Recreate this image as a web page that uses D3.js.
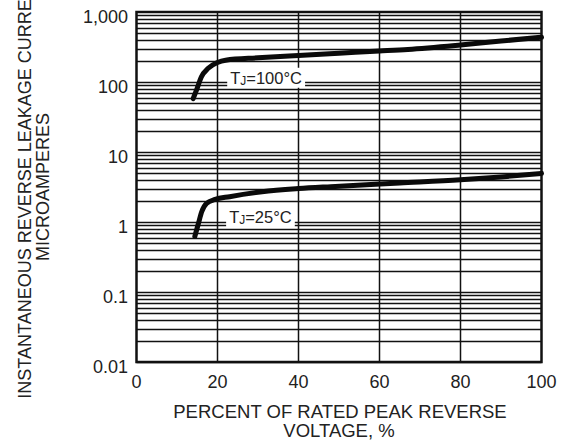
<!DOCTYPE html>
<html>
<head>
<meta charset="utf-8">
<script src="https://cdn.jsdelivr.net/npm/d3@7"></script>
<style>
  body { margin: 0; background: #fff; }
  text { font-family: "Liberation Sans", Arial, sans-serif; fill: #222; }
</style>
</head>
<body>
<svg id="chart"></svg>
<script>
const xTicks = [0, 20, 40, 60, 80, 100];
const yTicks = [0.01, 0.1, 1, 10, 100, 1000];
const yTickLabels = ["0.01", "0.1", "1", "10", "100", "1,000"];

// percent of rated voltage vs leakage current (uA)
const curve100 = [[14, 58], [15, 82], [16, 118], [17.7, 157], [20, 190], [22, 205], [30, 222],
    [40, 240], [50, 258], [60, 277], [67, 292], [80, 338], [90, 385], [100, 435]];
const curve25 = [[14.4, 0.62], [15.3, 0.96], [16.1, 1.4], [17.3, 1.85], [19.4, 2.1], [23, 2.3],
    [31, 2.7], [40, 3.0], [48, 3.2], [65, 3.6], [80, 4.0], [90, 4.4], [100, 4.95]];
const curveLabels = [
    {sub: "J", rest: "=100°C", x: 32, y: 115},
    {sub: "J", rest: "=25°C", x: 30.6, y: 1.18}
];

const width = 565, height = 447;
const plot = {left: 136.5, right: 541.5, top: 12, bottom: 362};

const x = d3.scaleLinear().domain([0, 100]).range([plot.left, plot.right]);
const y = d3.scaleLog().domain([0.01, 1000]).range([plot.bottom, plot.top]);

const svg = d3.select("#chart")
    .attr("width", width)
    .attr("height", height);

// horizontal grid: decades + 2..9 minors
const minorVals = [];
for (let e = -2; e < 3; e++) {
    for (let m = 1; m < 10; m++) minorVals.push(m * Math.pow(10, e));
}
svg.append("g")
    .selectAll("line")
    .data(minorVals)
    .join("line")
    .attr("x1", plot.left).attr("x2", plot.right)
    .attr("y1", d => Math.round(y(d)) + 0.5)
    .attr("y2", d => Math.round(y(d)) + 0.5)
    .attr("stroke", "#111")
    .attr("stroke-width", 1.4);

svg.append("g")
    .selectAll("line")
    .data(xTicks.slice(1, -1))
    .join("line")
    .attr("x1", d => x(d)).attr("x2", d => x(d))
    .attr("y1", plot.top).attr("y2", plot.bottom)
    .attr("stroke", "#111")
    .attr("stroke-width", 1.5);

svg.append("rect")
    .attr("x", plot.left).attr("y", plot.top)
    .attr("width", plot.right - plot.left)
    .attr("height", plot.bottom - plot.top)
    .attr("fill", "none")
    .attr("stroke", "#111")
    .attr("stroke-width", 2.5);

// tick labels
svg.append("g")
    .attr("font-size", 18)
    .selectAll("text")
    .data(yTicks)
    .join("text")
    .attr("x", 128)
    .attr("y", d => y(d) + 11)
    .attr("text-anchor", "end")
    .text((d, i) => yTickLabels[i]);

svg.append("g")
    .attr("font-size", 18)
    .selectAll("text")
    .data(xTicks)
    .join("text")
    .attr("x", d => x(d))
    .attr("y", 388)
    .attr("text-anchor", "middle")
    .text(d => d);

// axis titles
const xTitle = svg.append("text")
    .attr("font-size", 18.5)
    .attr("text-anchor", "middle");
xTitle.append("tspan").attr("x", 340).attr("y", 418).text("PERCENT OF RATED PEAK REVERSE");
xTitle.append("tspan").attr("x", 339).attr("y", 437).text("VOLTAGE, %");

const yTitle = svg.append("text")
    .attr("font-size", 18)
    .attr("text-anchor", "middle")
    .attr("transform", "translate(0,187) rotate(-90)");
yTitle.append("tspan").attr("x", 0).attr("y", 31).text("INSTANTANEOUS REVERSE LEAKAGE CURRENT");
yTitle.append("tspan").attr("x", 0).attr("y", 49).text("MICROAMPERES");

// curve labels with white box
const lab = svg.append("g")
    .selectAll("g")
    .data(curveLabels)
    .join("g")
    .attr("transform", d => "translate(" + x(d.x) + "," + y(d.y) + ")");

lab.each(function(d) {
    const g = d3.select(this);
    const rect = g.append("rect").attr("fill", "#fff");
    const t = g.append("text")
        .attr("font-size", 16.5)
        .attr("text-anchor", "middle")
        .attr("y", 6);
    t.append("tspan").text("T");
    t.append("tspan").attr("font-size", 12).attr("dy", 1.5).text(d.sub);
    t.append("tspan").attr("dy", -1.5).text(d.rest);
    const bb = t.node().getBBox();
    rect.attr("x", bb.x - 3).attr("y", -10)
        .attr("width", bb.width + 6).attr("height", 20);
});

// curves
const line = d3.line()
    .x(d => x(d[0]))
    .y(d => y(d[1]))
    .curve(d3.curveMonotoneX);

svg.append("g")
    .selectAll("path")
    .data([curve100, curve25])
    .join("path")
    .attr("d", line)
    .attr("fill", "none")
    .attr("stroke", "#0a0a0a")
    .attr("stroke-width", 5)
    .attr("stroke-linecap", "round")
    .attr("stroke-linejoin", "round");
</script>
</body>
</html>
